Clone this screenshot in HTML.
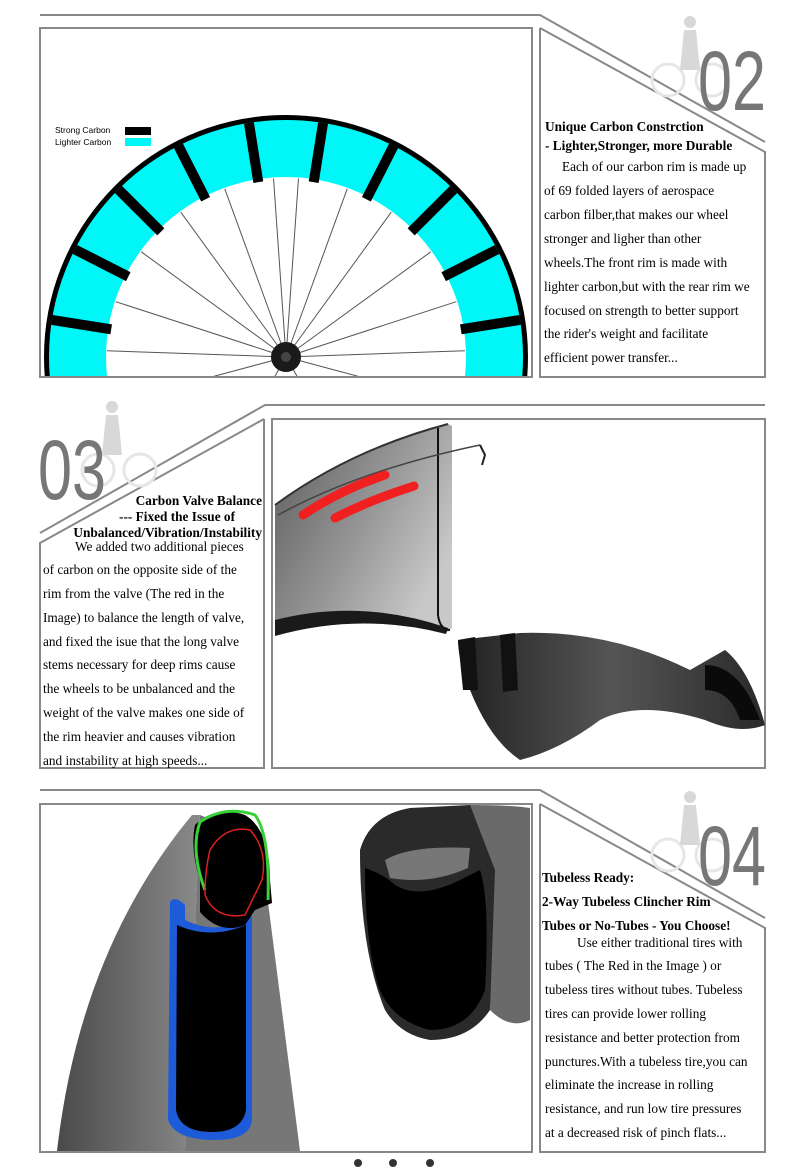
<!DOCTYPE html>
<html><head><meta charset="utf-8"><style>
html,body{margin:0;padding:0;background:#fff;}
svg{display:block;}
.h{font-family:"Liberation Serif",serif;font-weight:bold;font-size:13.3px;fill:#000;}
.b{font-family:"Liberation Serif",serif;font-size:13.3px;fill:#000;}
.n{font-family:"Liberation Sans",sans-serif;font-size:84px;fill:#777;}
.lg{font-family:"Liberation Sans",sans-serif;font-size:8.5px;fill:#000;}
</style></head><body>
<svg width="800" height="1172" viewBox="0 0 800 1172" xmlns="http://www.w3.org/2000/svg">
<defs>
<clipPath id="c1"><rect x="41" y="29" width="490" height="347"/></clipPath>
<clipPath id="c3"><rect x="41" y="805" width="490" height="346"/></clipPath>
<linearGradient id="g1" x1="0" y1="0" x2="1" y2="0.6"><stop offset="0" stop-color="#5a5a5a"/><stop offset="0.6" stop-color="#999"/><stop offset="1" stop-color="#c8c8c8"/></linearGradient>
<linearGradient id="g2" x1="0" y1="0" x2="1" y2="0"><stop offset="0" stop-color="#222"/><stop offset="0.5" stop-color="#555"/><stop offset="1" stop-color="#2a2a2a"/></linearGradient>
<linearGradient id="g3" x1="0" y1="0" x2="1" y2="0"><stop offset="0" stop-color="#4a4a4a"/><stop offset="1" stop-color="#8a8a8a"/></linearGradient>
</defs>
<g fill="none" stroke="#888" stroke-width="2">
<polyline points="40,15 540,15 765,142"/>
<rect x="40" y="28" width="492" height="349"/>
<polyline points="540,28 765,152 765,377 540,377 540,28"/>
<polyline points="765,405 265,405 40,533"/>
<polyline points="264,419 40,543 40,768 264,768 264,419"/>
<rect x="272" y="419" width="493" height="349"/>
<polyline points="40,790 540,790 765,918"/>
<rect x="40" y="804" width="492" height="348"/>
<polyline points="540,804 765,928 765,1152 540,1152 540,804"/>
</g>

<g clip-path="url(#c1)">
<circle cx="286" cy="357" r="239" fill="none" stroke="#000" stroke-width="6"/>
<circle cx="286" cy="357" r="208.5" fill="none" stroke="#00f7f7" stroke-width="57"/>
<g fill="#000">
<rect x="281" y="120" width="10" height="60" transform="rotate(9 286 357)"/>
<rect x="281" y="120" width="10" height="60" transform="rotate(-9 286 357)"/>
<rect x="281" y="120" width="10" height="60" transform="rotate(27 286 357)"/>
<rect x="281" y="120" width="10" height="60" transform="rotate(-27 286 357)"/>
<rect x="281" y="120" width="10" height="60" transform="rotate(45 286 357)"/>
<rect x="281" y="120" width="10" height="60" transform="rotate(-45 286 357)"/>
<rect x="281" y="120" width="10" height="60" transform="rotate(63 286 357)"/>
<rect x="281" y="120" width="10" height="60" transform="rotate(-63 286 357)"/>
<rect x="281" y="120" width="10" height="60" transform="rotate(81 286 357)"/>
<rect x="281" y="120" width="10" height="60" transform="rotate(-81 286 357)"/>
</g>
<g stroke="#555" stroke-width="1">
<line x1="286" y1="357" x2="286" y2="178" transform="rotate(4 286 357)"/>
<line x1="286" y1="357" x2="286" y2="178" transform="rotate(-4 286 357)"/>
<line x1="286" y1="357" x2="286" y2="178" transform="rotate(20 286 357)"/>
<line x1="286" y1="357" x2="286" y2="178" transform="rotate(-20 286 357)"/>
<line x1="286" y1="357" x2="286" y2="178" transform="rotate(36 286 357)"/>
<line x1="286" y1="357" x2="286" y2="178" transform="rotate(-36 286 357)"/>
<line x1="286" y1="357" x2="286" y2="178" transform="rotate(54 286 357)"/>
<line x1="286" y1="357" x2="286" y2="178" transform="rotate(-54 286 357)"/>
<line x1="286" y1="357" x2="286" y2="178" transform="rotate(72 286 357)"/>
<line x1="286" y1="357" x2="286" y2="178" transform="rotate(-72 286 357)"/>
<line x1="286" y1="357" x2="286" y2="178" transform="rotate(88 286 357)"/>
<line x1="286" y1="357" x2="286" y2="178" transform="rotate(-88 286 357)"/>
<line x1="286" y1="357" x2="286" y2="178" transform="rotate(105 286 357)"/>
<line x1="286" y1="357" x2="286" y2="178" transform="rotate(-105 286 357)"/>
<line x1="286" y1="357" x2="286" y2="178" transform="rotate(150 286 357)"/>
<line x1="286" y1="357" x2="286" y2="178" transform="rotate(-150 286 357)"/>
</g>
<circle cx="286" cy="357" r="15" fill="#1a1a1a"/>
<circle cx="286" cy="357" r="5" fill="#444"/>
</g>
<text class="lg" x="55" y="133">Strong Carbon</text>
<rect x="125" y="127" width="26" height="8" fill="#000"/>
<text class="lg" x="55" y="145">Lighter Carbon</text>
<rect x="125" y="138" width="26" height="8" fill="#00f7f7"/>

<g fill="none" stroke="#e6e6e6" stroke-width="3">
<circle cx="668" cy="80" r="16"/><circle cx="712" cy="80" r="16"/>
<circle cx="98" cy="470" r="16"/><circle cx="140" cy="470" r="16"/>
<circle cx="668" cy="855" r="16"/><circle cx="712" cy="855" r="16"/>
</g>
<g fill="#d8d8d8">
<circle cx="690" cy="22" r="6"/><path d="M684,30 L696,30 L700,70 L680,70 Z"/>
<circle cx="112" cy="407" r="6"/><path d="M106,415 L118,415 L122,455 L102,455 Z"/>
<circle cx="690" cy="797" r="6"/><path d="M684,805 L696,805 L700,845 L680,845 Z"/>
</g>

<text class="n" x="698" y="110" textLength="68" lengthAdjust="spacingAndGlyphs">02</text>
<text class="n" x="38" y="499" textLength="68" lengthAdjust="spacingAndGlyphs">03</text>
<text class="n" x="698" y="885" textLength="68" lengthAdjust="spacingAndGlyphs">04</text>

<text class="h" x="545" y="131">Unique Carbon Constrction</text>
<text class="h" x="545" y="150">- Lighter,Stronger, more Durable</text>
<g class="b">
<text x="562" y="171">Each of our carbon rim is made up</text>
<text x="544" y="195">of 69 folded layers of aerospace</text>
<text x="544" y="219">carbon filber,that makes our wheel</text>
<text x="544" y="243">stronger and ligher than other</text>
<text x="544" y="267">wheels.The front rim is made with</text>
<text x="544" y="291">lighter carbon,but with the rear rim we</text>
<text x="544" y="315">focused on strength to better support</text>
<text x="544" y="338">the rider's weight and facilitate</text>
<text x="544" y="362">efficient power transfer...</text>
</g>

<g class="h" text-anchor="end">
<text x="262" y="505">Carbon Valve Balance</text>
<text x="235" y="521">--- Fixed the Issue of</text>
<text x="262" y="537">Unbalanced/Vibration/Instability</text>
</g>
<g class="b">
<text x="75" y="551">We added two additional pieces</text>
<text x="43" y="574">of carbon on the opposite side of the</text>
<text x="43" y="598">rim from the valve (The red in the</text>
<text x="43" y="622">Image) to balance the length of valve,</text>
<text x="43" y="646">and fixed the isue that the long valve</text>
<text x="43" y="669">stems necessary for deep rims cause</text>
<text x="43" y="693">the wheels to be unbalanced and the</text>
<text x="43" y="717">weight of the valve makes one side of</text>
<text x="43" y="741">the rim heavier and causes vibration</text>
<text x="43" y="765">and instability at high speeds...</text>
</g>

<path d="M275,505 Q350,450 448,424 L452,426 L452,628 L448,632 Q360,612 275,632 Z" fill="url(#g1)"/>
<path d="M275,620 Q360,598 448,628 L446,634 Q360,612 275,636 Z" fill="#1a1a1a"/>
<path d="M438,428 L438,615 Q440,630 450,630" fill="none" stroke="#111" stroke-width="2"/>
<path d="M275,505 Q350,450 448,424" fill="none" stroke="#333" stroke-width="2"/>
<path d="M278,515 Q360,470 480,445" fill="none" stroke="#444" stroke-width="1.5"/>
<path d="M480,445 L485,455 L482,465" fill="none" stroke="#222" stroke-width="2"/>
<path d="M303,515 Q340,490 385,475" stroke="#f02020" stroke-width="9" stroke-linecap="round" fill="none"/>
<path d="M335,518 Q370,500 414,486" stroke="#f02020" stroke-width="9" stroke-linecap="round" fill="none"/>
<path d="M458,640 L520,633 Q610,630 690,670 L725,650 Q750,670 765,725 Q740,735 705,720 Q640,700 600,720 Q560,750 520,760 Q490,740 470,690 Q458,660 458,640 Z" fill="url(#g2)"/>
<path d="M458,640 L475,637 L478,690 L463,690 Z" fill="#111"/>
<path d="M500,635 L515,633 L518,690 L503,692 Z" fill="#111"/>
<path d="M705,665 Q740,665 760,720 L740,720 Q730,690 705,690 Z" fill="#0a0a0a"/>

<text class="h" x="542" y="882">Tubeless Ready:</text>
<text class="h" x="542" y="906">2-Way Tubeless Clincher Rim</text>
<text class="h" x="542" y="930">Tubes or No-Tubes - You Choose!</text>
<g class="b">
<text x="577" y="947">Use either traditional tires with</text>
<text x="545" y="970">tubes ( The Red in the Image ) or</text>
<text x="545" y="994">tubeless tires without tubes. Tubeless</text>
<text x="545" y="1018">tires can provide lower rolling</text>
<text x="545" y="1042">resistance and better protection from</text>
<text x="545" y="1066">punctures.With a tubeless tire,you can</text>
<text x="545" y="1089">eliminate the increase in rolling</text>
<text x="545" y="1113">resistance, and run low tire pressures</text>
<text x="545" y="1137">at a decreased risk of pinch flats...</text>
</g>

<g clip-path="url(#c3)">
<path d="M57,1151 Q80,950 192,815 L200,815 L185,1151 Z" fill="url(#g3)"/>
<path d="M185,1151 L200,815 L260,840 L300,1151 Z" fill="#777"/>
<path d="M170,902 Q175,895 185,905 L185,920 Q215,935 245,920 L245,905 Q252,898 252,920 L252,1120 Q250,1140 215,1140 Q175,1140 168,1120 Z" fill="#1e5bd8"/>
<path d="M177,925 Q210,940 246,925 L246,1110 Q242,1132 212,1132 Q180,1132 176,1110 Z" fill="#000"/>
<path d="M200,880 Q190,850 195,825 Q215,805 245,815 Q270,830 270,880 L272,903 L255,910 L245,925 Q220,935 200,912 Z" fill="#000"/>
<path d="M205,890 Q190,850 200,822 Q225,805 255,815 Q270,835 268,900" fill="none" stroke="#3ad03a" stroke-width="3"/>
<path d="M205,895 Q205,870 210,850 Q225,825 250,830 Q268,850 262,880 L245,915 Q215,920 205,895 Z" fill="none" stroke="#e02020" stroke-width="1.5"/>
<path d="M360,850 Q370,815 410,808 L470,805 Q500,805 505,820 L512,840 L500,870 L490,1010 Q470,1040 430,1040 Q400,1035 385,1010 Q360,950 360,850 Z" fill="#2a2a2a"/>
<path d="M470,805 Q510,805 530,808 L530,1020 Q510,1030 490,1010 L495,870 Z" fill="#6a6a6a"/>
<path d="M365,868 Q385,875 395,885 Q420,900 460,880 L480,870 Q490,900 485,990 Q470,1030 430,1030 Q390,1020 378,985 Q365,940 365,868 Z" fill="#000"/>
<path d="M385,860 Q410,845 470,848 L468,868 Q430,885 390,878 Z" fill="#777"/>
</g>

<circle cx="358" cy="1163" r="4" fill="#333"/>
<circle cx="393" cy="1163" r="4" fill="#333"/>
<circle cx="430" cy="1163" r="4" fill="#333"/>
</svg>
</body></html>
